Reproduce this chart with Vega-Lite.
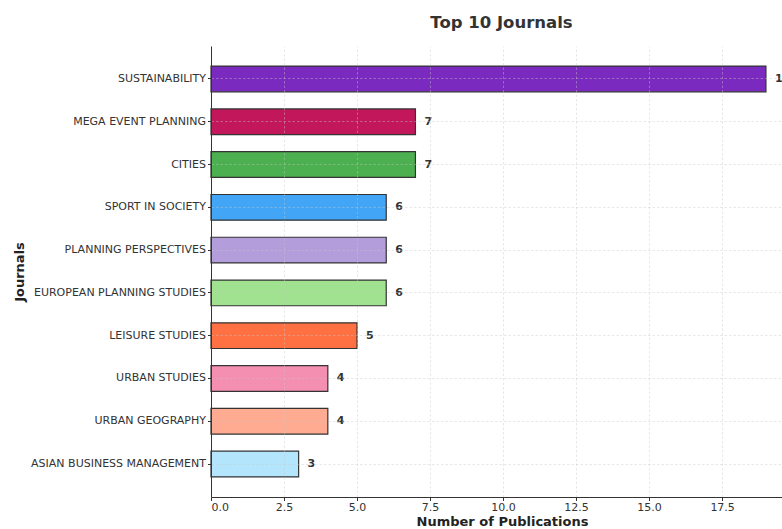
{
  "$schema": "https://vega.github.io/schema/vega-lite/v6.json",
  "autosize": {"type": "none"},
  "padding": {"left": 211, "top": 46, "right": 0, "bottom": 32},
  "width": 571,
  "height": 451,
  "background": "white",
  "config": {"font": "DejaVu Sans", "view": {"stroke": null}},
  "title": {
    "text": "Top 10 Journals",
    "fontSize": 16.5,
    "fontWeight": "bold",
    "color": "#333333",
    "font": "DejaVu Sans",
    "anchor": "middle",
    "dx": 5,
    "offset": 15
  },
  "data": {
    "values": [
      {"journal": "SUSTAINABILITY", "count": 19},
      {"journal": "MEGA EVENT PLANNING", "count": 7},
      {"journal": "CITIES", "count": 7},
      {"journal": "SPORT IN SOCIETY", "count": 6},
      {"journal": "PLANNING PERSPECTIVES", "count": 6},
      {"journal": "EUROPEAN PLANNING STUDIES", "count": 6},
      {"journal": "LEISURE STUDIES", "count": 5},
      {"journal": "URBAN STUDIES", "count": 4},
      {"journal": "URBAN GEOGRAPHY", "count": 4},
      {"journal": "ASIAN BUSINESS MANAGEMENT", "count": 3}
    ]
  },
  "encoding": {
    "y": {
      "field": "journal",
      "type": "nominal",
      "sort": null,
      "scale": {"paddingInner": 0.4, "paddingOuter": 0.47},
      "axis": {
        "title": "Journals",
        "titleFontSize": 13,
        "titleFontWeight": "bold",
        "titleColor": "#222222",
        "titlePadding": 4,
        "labelFontSize": 11,
        "labelColor": "#333333",
        "labelPadding": 2,
        "tickSize": 3.5,
        "tickColor": "#333333",
        "domainColor": "#333333",
        "bandPosition": 0.5,
        "grid": true,
        "gridColor": "#c8c8c8",
        "gridOpacity": 0.6,
        "gridDash": [2.5, 2],
        "gridWidth": 0.7,
        "zindex": 1
      }
    },
    "x": {
      "field": "count",
      "type": "quantitative",
      "scale": {"domain": [0, 19.55], "nice": false, "zero": true},
      "axis": {
        "title": "Number of Publications",
        "titleFontSize": 13,
        "titleFontWeight": "bold",
        "titleColor": "#222222",
        "titleX": 291,
        "titlePadding": 3,
        "values": [0, 2.5, 5, 7.5, 10, 12.5, 15, 17.5],
        "format": ".1f",
        "labelFontSize": 11,
        "labelColor": "#333333",
        "labelPadding": 0.5,
        "tickSize": 3.5,
        "tickColor": "#333333",
        "domainColor": "#333333",
        "grid": true,
        "gridColor": "#c8c8c8",
        "gridOpacity": 0.6,
        "gridDash": [2.5, 2],
        "gridWidth": 0.7,
        "zindex": 1
      }
    }
  },
  "layer": [
    {
      "mark": {"type": "bar", "stroke": "#333333", "strokeWidth": 1.2},
      "encoding": {
        "color": {
          "field": "journal",
          "type": "nominal",
          "legend": null,
          "scale": {
            "domain": ["SUSTAINABILITY", "MEGA EVENT PLANNING", "CITIES", "SPORT IN SOCIETY", "PLANNING PERSPECTIVES", "EUROPEAN PLANNING STUDIES", "LEISURE STUDIES", "URBAN STUDIES", "URBAN GEOGRAPHY", "ASIAN BUSINESS MANAGEMENT"],
            "range": ["#7B2ABF", "#C2185B", "#4CAF50", "#42A5F5", "#B39DDB", "#A0E28F", "#FF7043", "#F48FB1", "#FFAB91", "#B3E5FC"]
          }
        }
      }
    },
    {
      "mark": {"type": "text", "align": "left", "baseline": "middle", "dx": 9, "fontSize": 11, "fontWeight": "bold", "color": "#333333", "font": "DejaVu Sans"},
      "encoding": {"text": {"field": "count", "type": "quantitative"}}
    }
  ]
}
